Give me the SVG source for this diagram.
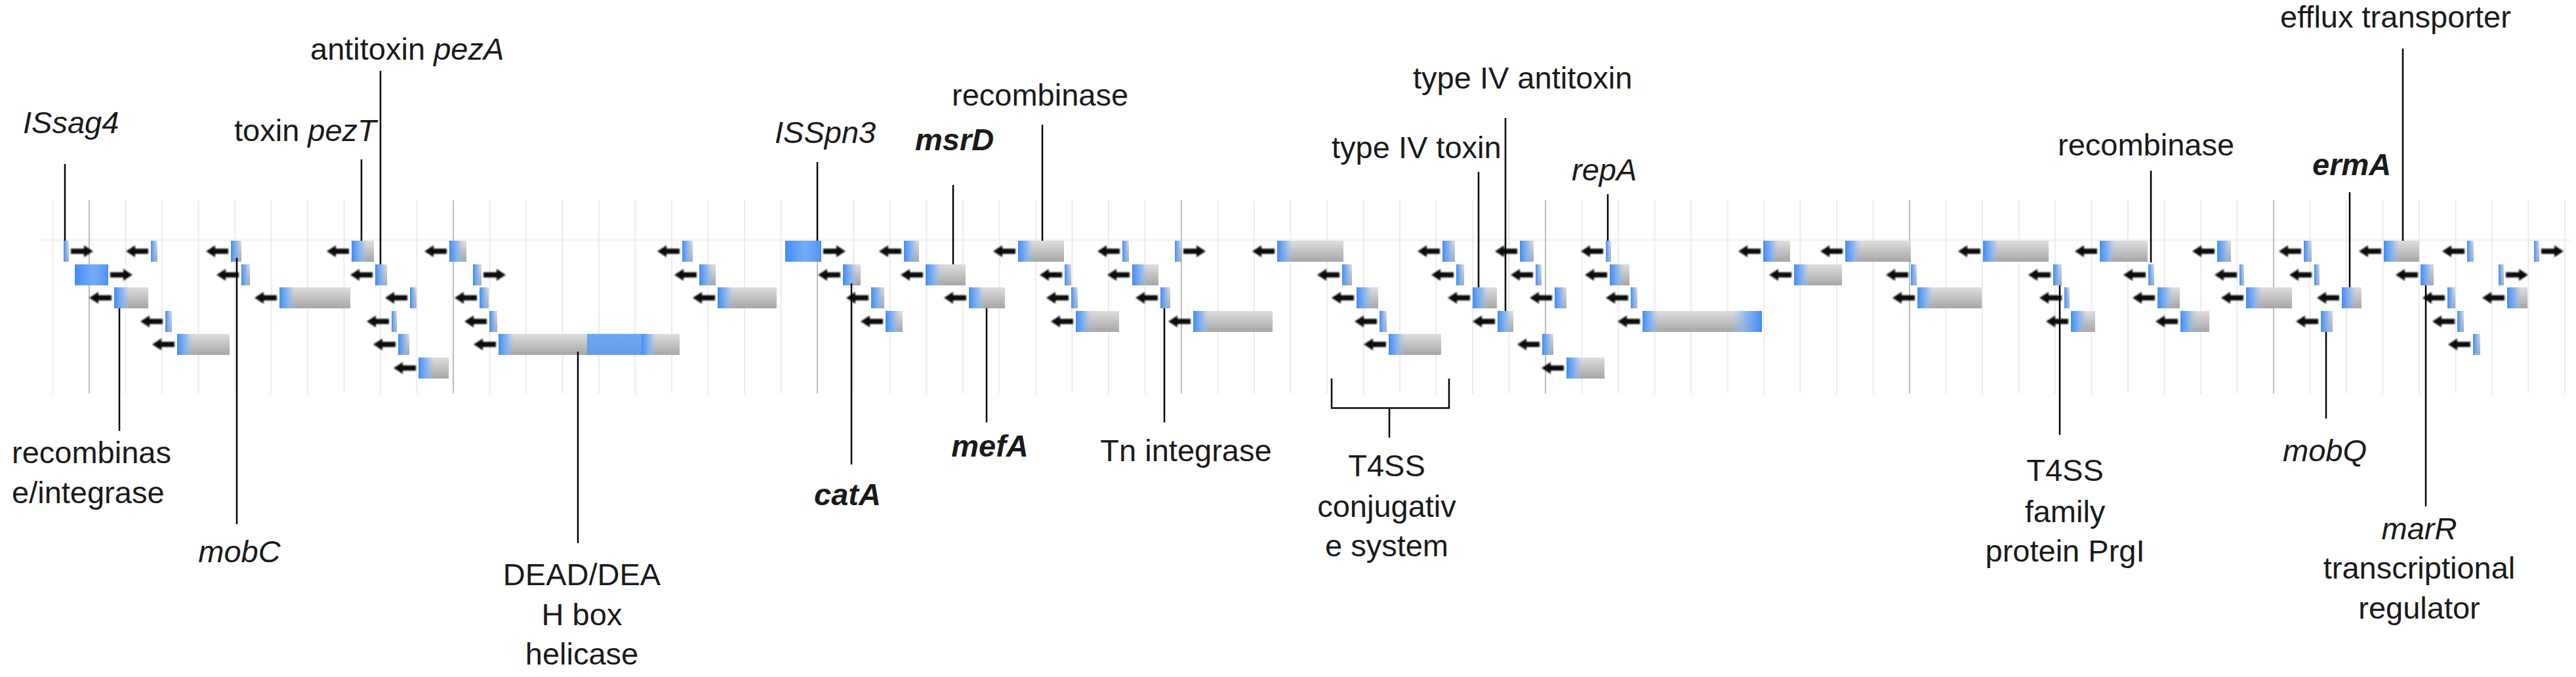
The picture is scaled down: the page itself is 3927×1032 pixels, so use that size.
<svg xmlns="http://www.w3.org/2000/svg" xmlns:xlink="http://www.w3.org/1999/xlink" width="3927" height="1032" viewBox="0 0 3927 1032">
<style>
.gl{stroke:#ececec;stroke-width:2}
.gd{stroke:#bdbdbd;stroke-width:2}
.b{fill:url(#gr)}
.u{fill:url(#bl)}
.ld{stroke:#000;stroke-width:2.5;fill:none}
text{font-family:"Liberation Sans",Arial,sans-serif;font-size:47px;fill:#1a1a1a}
.i{font-style:italic}
.bi{font-style:italic;font-weight:bold}
.m{text-anchor:middle}
</style>
<defs>
<linearGradient id="gr" x1="0" y1="0" x2="0" y2="1"><stop offset="0" stop-color="#dedede"/><stop offset="1" stop-color="#a6a6a6"/></linearGradient>
<linearGradient id="bl" x1="0" y1="0" x2="1" y2="0"><stop offset="0" stop-color="#3f8cf6"/><stop offset="0.55" stop-color="#7fb1f5" stop-opacity="0.8"/><stop offset="1" stop-color="#9cc3f7" stop-opacity="0"/></linearGradient>
<filter id="bf" x="-20%" y="-50%" width="140%" height="200%"><feGaussianBlur stdDeviation="1.2"/></filter>
<path id="al" d="M0 0 L14 -9 L14 -4 L34 -4 L34 4 L14 4 L14 9 Z" fill="#111" filter="url(#bf)"/>
<path id="ar" d="M34 0 L20 -9 L20 -4 L0 -4 L0 4 L20 4 L20 9 Z" fill="#111" filter="url(#bf)"/>
</defs>
<rect width="3927" height="1032" fill="#fff"/>
<g id="grid">
<line x1="60" y1="366" x2="3920" y2="366" stroke="#f3f3f3" stroke-width="3"/>
<line class="gl" x1="80.5" y1="305" x2="80.5" y2="600"/><line class="gd" x1="136" y1="305" x2="136" y2="600"/><line class="gl" x1="191.5" y1="305" x2="191.5" y2="600"/><line class="gl" x1="247" y1="305" x2="247" y2="600"/><line class="gl" x1="302.5" y1="305" x2="302.5" y2="600"/><line class="gl" x1="358" y1="305" x2="358" y2="600"/><line class="gl" x1="413.5" y1="305" x2="413.5" y2="600"/><line class="gl" x1="469" y1="305" x2="469" y2="600"/><line class="gl" x1="524.5" y1="305" x2="524.5" y2="600"/><line class="gl" x1="580" y1="305" x2="580" y2="600"/><line class="gl" x1="635.5" y1="305" x2="635.5" y2="600"/><line class="gd" x1="691" y1="305" x2="691" y2="600"/><line class="gl" x1="746.5" y1="305" x2="746.5" y2="600"/><line class="gl" x1="802" y1="305" x2="802" y2="600"/><line class="gl" x1="857.5" y1="305" x2="857.5" y2="600"/><line class="gl" x1="913" y1="305" x2="913" y2="600"/><line class="gl" x1="968.5" y1="305" x2="968.5" y2="600"/><line class="gl" x1="1024" y1="305" x2="1024" y2="600"/><line class="gl" x1="1079.5" y1="305" x2="1079.5" y2="600"/><line class="gl" x1="1135" y1="305" x2="1135" y2="600"/><line class="gl" x1="1190.5" y1="305" x2="1190.5" y2="600"/><line class="gd" x1="1246" y1="305" x2="1246" y2="600"/><line class="gl" x1="1301.5" y1="305" x2="1301.5" y2="600"/><line class="gl" x1="1357" y1="305" x2="1357" y2="600"/><line class="gl" x1="1412.5" y1="305" x2="1412.5" y2="600"/><line class="gl" x1="1468" y1="305" x2="1468" y2="600"/><line class="gl" x1="1523.5" y1="305" x2="1523.5" y2="600"/><line class="gl" x1="1579" y1="305" x2="1579" y2="600"/><line class="gl" x1="1634.5" y1="305" x2="1634.5" y2="600"/><line class="gl" x1="1690" y1="305" x2="1690" y2="600"/><line class="gl" x1="1745.5" y1="305" x2="1745.5" y2="600"/><line class="gd" x1="1801" y1="305" x2="1801" y2="600"/><line class="gl" x1="1856.5" y1="305" x2="1856.5" y2="600"/><line class="gl" x1="1912" y1="305" x2="1912" y2="600"/><line class="gl" x1="1967.5" y1="305" x2="1967.5" y2="600"/><line class="gl" x1="2023" y1="305" x2="2023" y2="600"/><line class="gl" x1="2078.5" y1="305" x2="2078.5" y2="600"/><line class="gl" x1="2134" y1="305" x2="2134" y2="600"/><line class="gl" x1="2189.5" y1="305" x2="2189.5" y2="600"/><line class="gl" x1="2245" y1="305" x2="2245" y2="600"/><line class="gl" x1="2300.5" y1="305" x2="2300.5" y2="600"/><line class="gd" x1="2356" y1="305" x2="2356" y2="600"/><line class="gl" x1="2411.5" y1="305" x2="2411.5" y2="600"/><line class="gl" x1="2467" y1="305" x2="2467" y2="600"/><line class="gl" x1="2522.5" y1="305" x2="2522.5" y2="600"/><line class="gl" x1="2578" y1="305" x2="2578" y2="600"/><line class="gl" x1="2633.5" y1="305" x2="2633.5" y2="600"/><line class="gl" x1="2689" y1="305" x2="2689" y2="600"/><line class="gl" x1="2744.5" y1="305" x2="2744.5" y2="600"/><line class="gl" x1="2800" y1="305" x2="2800" y2="600"/><line class="gl" x1="2855.5" y1="305" x2="2855.5" y2="600"/><line class="gd" x1="2911" y1="305" x2="2911" y2="600"/><line class="gl" x1="2966.5" y1="305" x2="2966.5" y2="600"/><line class="gl" x1="3022" y1="305" x2="3022" y2="600"/><line class="gl" x1="3077.5" y1="305" x2="3077.5" y2="600"/><line class="gl" x1="3133" y1="305" x2="3133" y2="600"/><line class="gl" x1="3188.5" y1="305" x2="3188.5" y2="600"/><line class="gl" x1="3244" y1="305" x2="3244" y2="600"/><line class="gl" x1="3299.5" y1="305" x2="3299.5" y2="600"/><line class="gl" x1="3355" y1="305" x2="3355" y2="600"/><line class="gl" x1="3410.5" y1="305" x2="3410.5" y2="600"/><line class="gd" x1="3466" y1="305" x2="3466" y2="600"/><line class="gl" x1="3521.5" y1="305" x2="3521.5" y2="600"/><line class="gl" x1="3577" y1="305" x2="3577" y2="600"/><line class="gl" x1="3632.5" y1="305" x2="3632.5" y2="600"/><line class="gl" x1="3688" y1="305" x2="3688" y2="600"/><line class="gl" x1="3743.5" y1="305" x2="3743.5" y2="600"/><line class="gl" x1="3799" y1="305" x2="3799" y2="600"/><line class="gl" x1="3854.5" y1="305" x2="3854.5" y2="600"/><line class="gl" x1="3910" y1="305" x2="3910" y2="600"/>
</g>
<g id="genes">
<g id="g0_1"><rect class="b" x="97" y="367" width="8" height="32"/><rect class="u" x="97" y="367" width="8" height="32"/><use href="#ar" x="108" y="383"/></g>
<g id="g0_2"><rect class="b" x="230" y="367" width="10" height="32"/><rect class="u" x="230" y="367" width="10" height="32"/><use href="#al" x="192" y="383"/></g>
<g id="g0_3"><rect class="b" x="352" y="367" width="16" height="32"/><rect class="u" x="352" y="367" width="16" height="32"/><use href="#al" x="314" y="383"/></g>
<g id="g0_4"><rect class="b" x="536" y="367" width="34" height="32"/><rect class="u" x="536" y="367" width="24" height="32"/><use href="#al" x="498" y="383"/></g>
<g id="g0_5"><rect class="b" x="685" y="367" width="26" height="32"/><rect class="u" x="685" y="367" width="22" height="32"/><use href="#al" x="647" y="383"/></g>
<g id="g0_6"><rect class="b" x="1040" y="367" width="16" height="32"/><rect class="u" x="1040" y="367" width="16" height="32"/><use href="#al" x="1002" y="383"/></g>
<g id="g0_7"><rect x="1197" y="367" width="55" height="32" fill="#4a90f2"/><rect class="u" x="1197" y="367" width="55" height="32"/><use href="#ar" x="1255" y="383"/></g>
<g id="g0_8"><rect class="b" x="1378" y="367" width="23" height="32"/><rect class="u" x="1378" y="367" width="22" height="32"/><use href="#al" x="1340" y="383"/></g>
<g id="g0_9"><rect class="b" x="1552" y="367" width="70" height="32"/><rect class="u" x="1552" y="367" width="24" height="32"/><use href="#al" x="1514" y="383"/></g>
<g id="g0_10"><rect class="b" x="1711" y="367" width="10" height="32"/><rect class="u" x="1711" y="367" width="10" height="32"/><use href="#al" x="1673" y="383"/></g>
<g id="g0_11"><rect class="b" x="1791" y="367" width="10" height="32"/><rect class="u" x="1791" y="367" width="10" height="32"/><use href="#ar" x="1804" y="383"/></g>
<g id="g0_12"><rect class="b" x="1947" y="367" width="101" height="32"/><rect class="u" x="1947" y="367" width="24" height="32"/><use href="#al" x="1909" y="383"/></g>
<g id="g0_13"><rect class="b" x="2199" y="367" width="19" height="32"/><rect class="u" x="2199" y="367" width="19" height="32"/><use href="#al" x="2161" y="383"/></g>
<g id="g0_14"><rect class="b" x="2317" y="367" width="21" height="32"/><rect class="u" x="2317" y="367" width="21" height="32"/><use href="#al" x="2279" y="383"/></g>
<g id="g0_15"><rect class="b" x="2448" y="367" width="8" height="32"/><rect class="u" x="2448" y="367" width="8" height="32"/><use href="#al" x="2410" y="383"/></g>
<g id="g0_16"><rect class="b" x="2688" y="367" width="41" height="32"/><rect class="u" x="2688" y="367" width="24" height="32"/><use href="#al" x="2650" y="383"/></g>
<g id="g0_17"><rect class="b" x="2813" y="367" width="100" height="32"/><rect class="u" x="2813" y="367" width="24" height="32"/><use href="#al" x="2775" y="383"/></g>
<g id="g0_18"><rect class="b" x="3023" y="367" width="100" height="32"/><rect class="u" x="3023" y="367" width="24" height="32"/><use href="#al" x="2985" y="383"/></g>
<g id="g0_19"><rect class="b" x="3201" y="367" width="73" height="32"/><rect class="u" x="3201" y="367" width="24" height="32"/><use href="#al" x="3163" y="383"/></g>
<g id="g0_20"><rect class="b" x="3380" y="367" width="21" height="32"/><rect class="u" x="3380" y="367" width="21" height="32"/><use href="#al" x="3342" y="383"/></g>
<g id="g0_21"><rect class="b" x="3512" y="367" width="12" height="32"/><rect class="u" x="3512" y="367" width="12" height="32"/><use href="#al" x="3474" y="383"/></g>
<g id="g0_22"><rect class="b" x="3634" y="367" width="54" height="32"/><rect class="u" x="3634" y="367" width="24" height="32"/><use href="#al" x="3596" y="383"/></g>
<g id="g0_23"><rect class="b" x="3761" y="367" width="10" height="32"/><rect class="u" x="3761" y="367" width="10" height="32"/><use href="#al" x="3723" y="383"/></g>
<g id="g0_24"><rect class="b" x="3863" y="367" width="8" height="32"/><rect class="u" x="3863" y="367" width="8" height="32"/><use href="#ar" x="3874" y="383"/></g>

<g id="g1_1"><rect x="114" y="403" width="51" height="32" fill="#4a90f2"/><rect class="u" x="114" y="403" width="51" height="32"/><use href="#ar" x="168" y="419"/></g>
<g id="g1_2"><rect class="b" x="368" y="403" width="13" height="32"/><rect class="u" x="368" y="403" width="13" height="32"/><use href="#al" x="330" y="419"/></g>
<g id="g1_3"><rect class="b" x="572" y="403" width="18" height="32"/><rect class="u" x="572" y="403" width="18" height="32"/><use href="#al" x="534" y="419"/></g>
<g id="g1_4"><rect class="b" x="721" y="403" width="13" height="32"/><rect class="u" x="721" y="403" width="13" height="32"/><use href="#ar" x="737" y="419"/></g>
<g id="g1_5"><rect class="b" x="1066" y="403" width="25" height="32"/><rect class="u" x="1066" y="403" width="22" height="32"/><use href="#al" x="1028" y="419"/></g>
<g id="g1_6"><rect class="b" x="1285" y="403" width="27" height="32"/><rect class="u" x="1285" y="403" width="22" height="32"/><use href="#al" x="1247" y="419"/></g>
<g id="g1_7"><rect class="b" x="1411" y="403" width="61" height="32"/><rect class="u" x="1411" y="403" width="24" height="32"/><use href="#al" x="1373" y="419"/></g>
<g id="g1_8"><rect class="b" x="1623" y="403" width="10" height="32"/><rect class="u" x="1623" y="403" width="10" height="32"/><use href="#al" x="1585" y="419"/></g>
<g id="g1_9"><rect class="b" x="1726" y="403" width="40" height="32"/><rect class="u" x="1726" y="403" width="24" height="32"/><use href="#al" x="1688" y="419"/></g>
<g id="g1_10"><rect class="b" x="2046" y="403" width="15" height="32"/><rect class="u" x="2046" y="403" width="15" height="32"/><use href="#al" x="2008" y="419"/></g>
<g id="g1_11"><rect class="b" x="2220" y="403" width="12" height="32"/><rect class="u" x="2220" y="403" width="12" height="32"/><use href="#al" x="2182" y="419"/></g>
<g id="g1_12"><rect class="b" x="2341" y="403" width="9" height="32"/><rect class="u" x="2341" y="403" width="9" height="32"/><use href="#al" x="2303" y="419"/></g>
<g id="g1_13"><rect class="b" x="2454" y="403" width="30" height="32"/><rect class="u" x="2454" y="403" width="22" height="32"/><use href="#al" x="2416" y="419"/></g>
<g id="g1_14"><rect class="b" x="2735" y="403" width="73" height="32"/><rect class="u" x="2735" y="403" width="24" height="32"/><use href="#al" x="2697" y="419"/></g>
<g id="g1_15"><rect class="b" x="2913" y="403" width="9" height="32"/><rect class="u" x="2913" y="403" width="9" height="32"/><use href="#al" x="2875" y="419"/></g>
<g id="g1_16"><rect class="b" x="3130" y="403" width="13" height="32"/><rect class="u" x="3130" y="403" width="13" height="32"/><use href="#al" x="3092" y="419"/></g>
<g id="g1_17"><rect class="b" x="3275" y="403" width="9" height="32"/><rect class="u" x="3275" y="403" width="9" height="32"/><use href="#al" x="3237" y="419"/></g>
<g id="g1_18"><rect class="b" x="3414" y="403" width="7" height="32"/><rect class="u" x="3414" y="403" width="7" height="32"/><use href="#al" x="3376" y="419"/></g>
<g id="g1_19"><rect class="b" x="3528" y="403" width="8" height="32"/><rect class="u" x="3528" y="403" width="8" height="32"/><use href="#al" x="3490" y="419"/></g>
<g id="g1_20"><rect class="b" x="3690" y="403" width="20" height="32"/><rect class="u" x="3690" y="403" width="20" height="32"/><use href="#al" x="3652" y="419"/></g>
<g id="g1_21"><rect class="b" x="3809" y="403" width="8" height="32"/><rect class="u" x="3809" y="403" width="8" height="32"/><use href="#ar" x="3820" y="419"/></g>

<g id="g2_1"><rect class="b" x="174" y="438" width="52" height="32"/><rect class="u" x="174" y="438" width="24" height="32"/><use href="#al" x="136" y="454"/></g>
<g id="g2_2"><rect class="b" x="426" y="438" width="108" height="32"/><rect class="u" x="426" y="438" width="24" height="32"/><use href="#al" x="388" y="454"/></g>
<g id="g2_3"><rect class="b" x="625" y="438" width="10" height="32"/><rect class="u" x="625" y="438" width="10" height="32"/><use href="#al" x="587" y="454"/></g>
<g id="g2_4"><rect class="b" x="731" y="438" width="14" height="32"/><rect class="u" x="731" y="438" width="14" height="32"/><use href="#al" x="693" y="454"/></g>
<g id="g2_5"><rect class="b" x="1094" y="438" width="90" height="32"/><rect class="u" x="1094" y="438" width="24" height="32"/><use href="#al" x="1056" y="454"/></g>
<g id="g2_6"><rect class="b" x="1328" y="438" width="20" height="32"/><rect class="u" x="1328" y="438" width="20" height="32"/><use href="#al" x="1290" y="454"/></g>
<g id="g2_7"><rect class="b" x="1477" y="438" width="55" height="32"/><rect class="u" x="1477" y="438" width="24" height="32"/><use href="#al" x="1439" y="454"/></g>
<g id="g2_8"><rect class="b" x="1633" y="438" width="10" height="32"/><rect class="u" x="1633" y="438" width="10" height="32"/><use href="#al" x="1595" y="454"/></g>
<g id="g2_9"><rect class="b" x="1769" y="438" width="15" height="32"/><rect class="u" x="1769" y="438" width="15" height="32"/><use href="#al" x="1731" y="454"/></g>
<g id="g2_10"><rect class="b" x="2068" y="438" width="33" height="32"/><rect class="u" x="2068" y="438" width="24" height="32"/><use href="#al" x="2030" y="454"/></g>
<g id="g2_11"><rect class="b" x="2245" y="438" width="37" height="32"/><rect class="u" x="2245" y="438" width="24" height="32"/><use href="#al" x="2207" y="454"/></g>
<g id="g2_12"><rect class="b" x="2370" y="438" width="18" height="32"/><rect class="u" x="2370" y="438" width="18" height="32"/><use href="#al" x="2332" y="454"/></g>
<g id="g2_13"><rect class="b" x="2486" y="438" width="10" height="32"/><rect class="u" x="2486" y="438" width="10" height="32"/><use href="#al" x="2448" y="454"/></g>
<g id="g2_14"><rect class="b" x="2923" y="438" width="98" height="32"/><rect class="u" x="2923" y="438" width="24" height="32"/><use href="#al" x="2885" y="454"/></g>
<g id="g2_15"><rect class="b" x="3147" y="438" width="8" height="32"/><rect class="u" x="3147" y="438" width="8" height="32"/><use href="#al" x="3109" y="454"/></g>
<g id="g2_16"><rect class="b" x="3289" y="438" width="34" height="32"/><rect class="u" x="3289" y="438" width="24" height="32"/><use href="#al" x="3251" y="454"/></g>
<g id="g2_17"><rect class="b" x="3424" y="438" width="70" height="32"/><rect class="u" x="3424" y="438" width="24" height="32"/><use href="#al" x="3386" y="454"/></g>
<g id="g2_18"><rect class="b" x="3570" y="438" width="30" height="32"/><rect class="u" x="3570" y="438" width="22" height="32"/><use href="#al" x="3532" y="454"/></g>
<g id="g2_19"><rect class="b" x="3731" y="438" width="12" height="32"/><rect class="u" x="3731" y="438" width="12" height="32"/><use href="#al" x="3693" y="454"/></g>
<g id="g2_20"><rect class="b" x="3822" y="438" width="31" height="32"/><rect class="u" x="3822" y="438" width="22" height="32"/><use href="#al" x="3784" y="454"/></g>

<g id="g3_1"><rect class="b" x="252" y="474" width="10" height="32"/><rect class="u" x="252" y="474" width="10" height="32"/><use href="#al" x="214" y="490"/></g>
<g id="g3_2"><rect class="b" x="597" y="474" width="8" height="32"/><rect class="u" x="597" y="474" width="8" height="32"/><use href="#al" x="559" y="490"/></g>
<g id="g3_3"><rect class="b" x="746" y="474" width="12" height="32"/><rect class="u" x="746" y="474" width="12" height="32"/><use href="#al" x="708" y="490"/></g>
<g id="g3_4"><rect class="b" x="1350" y="474" width="26" height="32"/><rect class="u" x="1350" y="474" width="22" height="32"/><use href="#al" x="1312" y="490"/></g>
<g id="g3_5"><rect class="b" x="1640" y="474" width="66" height="32"/><rect class="u" x="1640" y="474" width="24" height="32"/><use href="#al" x="1602" y="490"/></g>
<g id="g3_6"><rect class="b" x="1819" y="474" width="121" height="32"/><rect class="u" x="1819" y="474" width="24" height="32"/><use href="#al" x="1781" y="490"/></g>
<g id="g3_7"><rect class="b" x="2103" y="474" width="11" height="32"/><rect class="u" x="2103" y="474" width="11" height="32"/><use href="#al" x="2065" y="490"/></g>
<g id="g3_8"><rect class="b" x="2283" y="474" width="24" height="32"/><rect class="u" x="2283" y="474" width="22" height="32"/><use href="#al" x="2245" y="490"/></g>
<g id="g3_9"><rect class="b" x="2504" y="474" width="182" height="32"/><rect class="u" x="2504" y="474" width="24" height="32"/><rect x="2640" y="474" width="46" height="32" fill="url(#bl)" transform="rotate(180 2663 490)"/><use href="#al" x="2466" y="490"/></g>
<g id="g3_10"><rect class="b" x="3157" y="474" width="37" height="32"/><rect class="u" x="3157" y="474" width="24" height="32"/><use href="#al" x="3119" y="490"/></g>
<g id="g3_11"><rect class="b" x="3324" y="474" width="44" height="32"/><rect class="u" x="3324" y="474" width="24" height="32"/><use href="#al" x="3286" y="490"/></g>
<g id="g3_12"><rect class="b" x="3538" y="474" width="18" height="32"/><rect class="u" x="3538" y="474" width="18" height="32"/><use href="#al" x="3500" y="490"/></g>
<g id="g3_13"><rect class="b" x="3746" y="474" width="10" height="32"/><rect class="u" x="3746" y="474" width="10" height="32"/><use href="#al" x="3708" y="490"/></g>

<g id="g4_1"><rect class="b" x="270" y="509" width="80" height="32"/><rect class="u" x="270" y="509" width="24" height="32"/><use href="#al" x="232" y="525"/></g>
<g id="g4_2"><rect class="b" x="607" y="509" width="17" height="32"/><rect class="u" x="607" y="509" width="17" height="32"/><use href="#al" x="569" y="525"/></g>
<g id="g4_3"><rect class="b" x="760" y="509" width="276" height="32"/><rect class="u" x="760" y="509" width="24" height="32"/><rect x="895" y="509" width="85" height="32" fill="#5b9bf4" opacity="0.85"/><rect x="978" y="509" width="22" height="32" fill="url(#bl)"/><use href="#al" x="722" y="525"/></g>
<g id="g4_4"><rect class="b" x="2117" y="509" width="80" height="32"/><rect class="u" x="2117" y="509" width="24" height="32"/><use href="#al" x="2079" y="525"/></g>
<g id="g4_5"><rect class="b" x="2351" y="509" width="17" height="32"/><rect class="u" x="2351" y="509" width="17" height="32"/><use href="#al" x="2313" y="525"/></g>
<g id="g4_6"><rect class="b" x="3770" y="509" width="11" height="32"/><rect class="u" x="3770" y="509" width="11" height="32"/><use href="#al" x="3732" y="525"/></g>

<g id="g5_1"><rect class="b" x="638" y="545" width="46" height="32"/><rect class="u" x="638" y="545" width="24" height="32"/><use href="#al" x="600" y="561"/></g>
<g id="g5_2"><rect class="b" x="2388" y="545" width="58" height="32"/><rect class="u" x="2388" y="545" width="24" height="32"/><use href="#al" x="2350" y="561"/></g>
</g>
<g id="connectors">
<line class="ld" x1="99" y1="250" x2="99" y2="367"/>
<line class="ld" x1="551" y1="243" x2="551" y2="367"/>
<line class="ld" x1="580" y1="108" x2="580" y2="403"/>
<line class="ld" x1="1246" y1="247" x2="1246" y2="367"/>
<line class="ld" x1="1453" y1="282" x2="1453" y2="403"/>
<line class="ld" x1="1589" y1="190" x2="1589" y2="367"/>
<line class="ld" x1="2254" y1="262" x2="2254" y2="438"/>
<line class="ld" x1="2295" y1="180" x2="2295" y2="474"/>
<line class="ld" x1="2451" y1="296" x2="2451" y2="367"/>
<line class="ld" x1="3279" y1="260" x2="3279" y2="400"/>
<line class="ld" x1="3582" y1="293" x2="3582" y2="438"/>
<line class="ld" x1="3663" y1="74" x2="3663" y2="367"/>
<line class="ld" x1="182" y1="470" x2="182" y2="657"/>
<line class="ld" x1="361" y1="393" x2="361" y2="799"/>
<line class="ld" x1="881" y1="536" x2="881" y2="828"/>
<line class="ld" x1="1298" y1="432" x2="1298" y2="708"/>
<line class="ld" x1="1504" y1="470" x2="1504" y2="644"/>
<line class="ld" x1="1775" y1="470" x2="1775" y2="644"/>
<path class="ld" d="M2030 577 V622 H2209 V577 M2118 622 V667" stroke-width="3"/>
<line class="ld" x1="3140" y1="435" x2="3140" y2="663"/>
<line class="ld" x1="3546" y1="506" x2="3546" y2="638"/>
<line class="ld" x1="3698" y1="435" x2="3698" y2="772"/>
</g>
<g id="labels">
<text class="i" x="35" y="203">ISsag4</text>
<text x="357" y="215">toxin <tspan class="i">pezT</tspan></text>
<text x="473" y="91">antitoxin <tspan class="i">pezA</tspan></text>
<text class="i" x="1181" y="218">ISSpn3</text>
<text class="bi" x="1395" y="229">msrD</text>
<text x="1451" y="161">recombinase</text>
<text x="2030" y="241">type IV toxin</text>
<text x="2154" y="135">type IV antitoxin</text>
<text class="i" x="2396" y="275">repA</text>
<text x="3137" y="237">recombinase</text>
<text class="bi" x="3525" y="267">ermA</text>
<text x="3476" y="42">efflux transporter</text>
<text x="18" y="706">recombinas</text>
<text x="18" y="767">e/integrase</text>
<text class="i m" x="365" y="857">mobC</text>
<text class="m" x="887" y="892">DEAD/DEA</text>
<text class="m" x="887" y="953">H box</text>
<text class="m" x="887" y="1013">helicase</text>
<text class="bi m" x="1292" y="770">catA</text>
<text class="bi m" x="1509" y="696">mefA</text>
<text class="m" x="1808" y="703">Tn integrase</text>
<text class="m" x="2114" y="726">T4SS</text>
<text class="m" x="2114" y="788">conjugativ</text>
<text class="m" x="2114" y="848">e system</text>
<text class="m" x="3148" y="733">T4SS</text>
<text class="m" x="3148" y="796">family</text>
<text class="m" x="3148" y="856">protein PrgI</text>
<text class="i m" x="3544" y="703">mobQ</text>
<text class="i m" x="3688" y="822">marR</text>
<text class="m" x="3688" y="882">transcriptional</text>
<text class="m" x="3688" y="943">regulator</text>
</g>
</svg>
